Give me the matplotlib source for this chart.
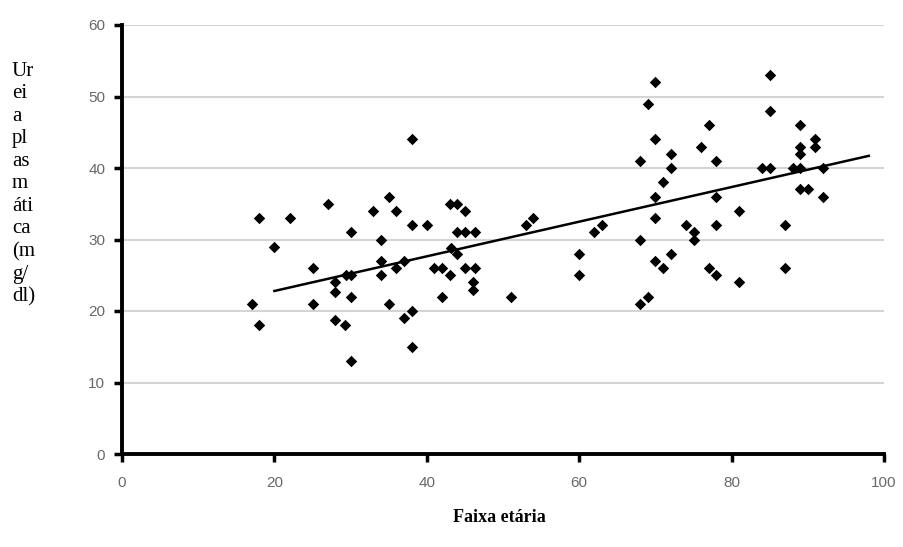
import numpy as np
import matplotlib.pyplot as plt

# valores (idade, ureia mg/dl)
idade = [18, 22, 20, 17, 18, 27, 30, 25, 25, 28, 28, 29.4, 30, 30, 28, 29.2, 30,
         33, 35, 36, 34, 34, 34, 35, 36, 37, 37, 38, 38, 38, 38, 40, 41, 42, 42,
         43, 44, 45, 43.2, 44, 43, 44, 45, 46.3, 45, 46.3, 46, 46,
         51, 53, 54, 60, 60, 62, 63, 68, 68, 68, 69, 69, 70, 70, 72, 72, 71, 70,
         70, 70, 71, 72, 74, 75, 75, 76, 77, 78, 78, 78, 77, 78, 81, 81, 85, 85,
         84, 85, 87, 87, 89, 89, 89, 88, 89, 89, 90, 91, 91, 92, 92]
ureia = [33, 33, 29, 21, 18, 35, 31, 26, 21, 24, 22.7, 25, 25, 22, 18.7, 18, 13,
         34, 36, 34, 30, 27, 25, 21, 26, 27, 19, 20, 15, 44, 32, 32, 26, 26, 22,
         35, 35, 34, 28.8, 28, 25, 31, 31, 31, 26, 26, 24, 23,
         22, 32, 33, 28, 25, 31, 32, 41, 30, 21, 22, 49, 52, 44, 42, 40, 38, 36,
         33, 27, 26, 28, 32, 31, 30, 43, 46, 41, 36, 32, 26, 25, 34, 24, 53, 48,
         40, 40, 32, 26, 46, 43, 42, 40, 40, 37, 37, 44, 43, 40, 36]

# linha de tendencia (extremos lidos)
trend_x = [20, 98]
trend_y = [22.8, 41.7]

xticks = [0, 20, 40, 60, 80, 100]
yticks = [0, 10, 20, 30, 40, 50, 60]

fig = plt.figure(figsize=(9.04, 5.47), dpi=100)
ax = fig.add_axes([122/904, 1 - 454/547, (884-122)/904, (454-25)/547])

ax.scatter(idade, ureia, s=34, marker='D', color='black', zorder=3, linewidths=0)
ax.plot(trend_x, trend_y, color='black', lw=1.8, zorder=4)

ax.set_xlim(0, 100)
ax.set_ylim(0, 60)
ax.set_xticks(xticks)
ax.set_yticks(yticks)
for y in yticks[1:]:
    ax.axhline(y, color='#d4d4d4', lw=1.5, zorder=1)

for s in ['top', 'right']:
    ax.spines[s].set_visible(False)
for s in ['left', 'bottom']:
    ax.spines[s].set_linewidth(2.8)
    ax.spines[s].set_color('black')
    ax.spines[s].set_zorder(5)

ax.tick_params(axis='both', direction='out', length=6, width=2.5, color='black',
               labelcolor='#686868', labelsize=11)
ax.tick_params(axis='x', pad=10)
ax.tick_params(axis='y', pad=6)
for lab in ax.get_xticklabels() + ax.get_yticklabels():
    lab.set_family('Liberation Sans')

fig.text(499/904, 1 - 517/547, 'Faixa etária', ha='center', va='center',
         family='Liberation Serif', fontweight='bold', fontsize=13)

ylab = 'Ur\nei\na\npl\nas\nm\náti\nca\n(m\ng/\ndl)'
fig.text(12/904, 1 - 62/547, ylab, ha='left', va='top',
         family='Liberation Serif', fontsize=15, linespacing=1.25)

fig.savefig('out.png', dpi=100)
